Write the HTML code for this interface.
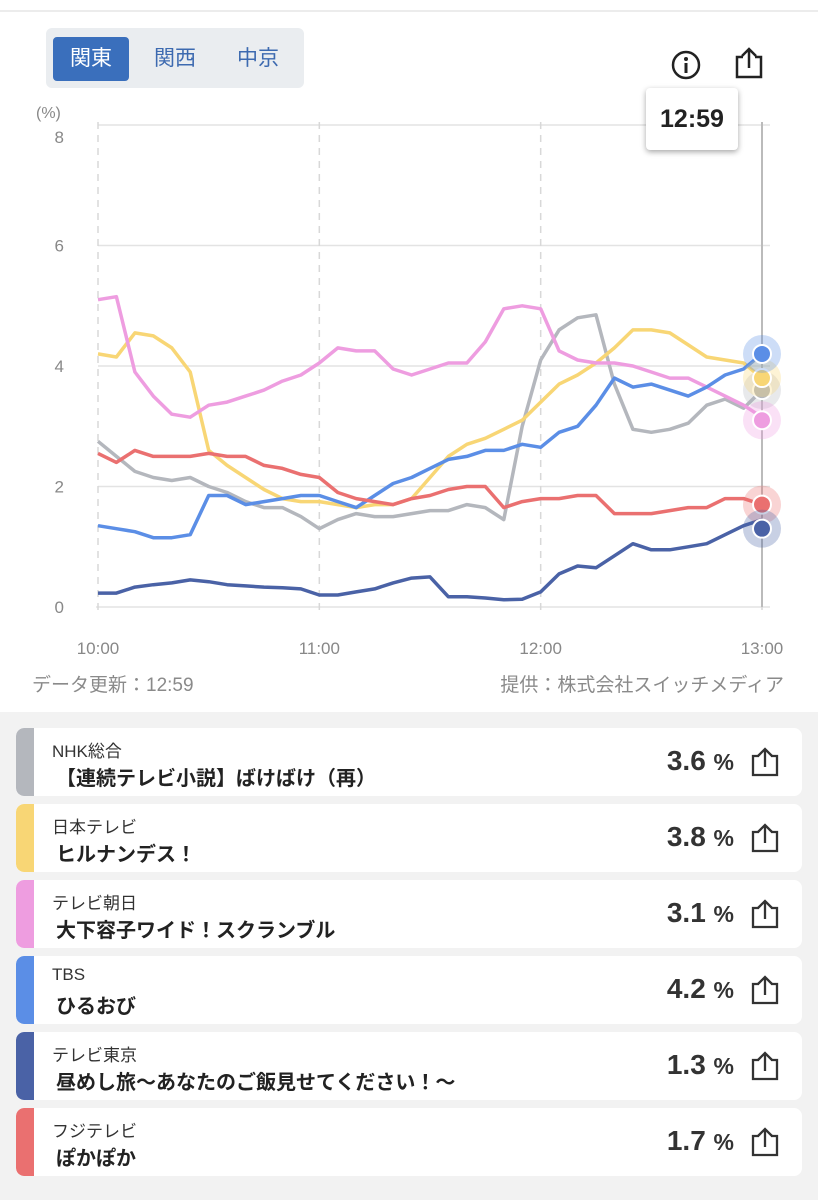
<!DOCTYPE html>
<html><head><meta charset="utf-8">
<style>
*{box-sizing:border-box;margin:0;padding:0}
body{width:818px;height:1200px;background:#fff;font-family:"Liberation Sans","Noto Sans CJK JP",sans-serif;position:relative;overflow:hidden}
.top{position:absolute;left:0;top:0;width:818px;height:12px;border-bottom:2px solid #ececec}
.tabs{position:absolute;left:46px;top:28px;width:258px;height:60px;background:#eaedf0;border-radius:6px}
.tab{position:absolute;top:9px;height:44px;width:76px;line-height:44px;text-align:center;font-size:21px;color:#3d6ab0}
.tab.on{background:#3a6fbc;color:#fff;border-radius:4px}
.tip{position:absolute;left:646px;top:88px;width:92px;height:62px;background:#fff;border-radius:4px;box-shadow:0 2px 6px rgba(0,0,0,.35);font-weight:bold;font-size:25px;line-height:62px;text-align:center;color:#222}
.foot{position:absolute;top:670px;font-size:19px;color:#8a8a8a}
.list{position:absolute;left:0;top:712px;width:818px;height:488px;background:#f2f2f2}
.card{position:absolute;left:16px;width:786px;height:68px;background:#fff;border-radius:8px;overflow:hidden}
.bar{position:absolute;left:0;top:0;width:18px;height:68px;border-radius:8px 0 0 8px}
.lbl{position:absolute;left:36px;top:9px;font-size:17px;color:#333}
.ttl{position:absolute;left:40px;top:34px;font-size:20px;font-weight:bold;color:#222}
.val{position:absolute;right:68px;top:17px;font-size:28px;font-weight:bold;color:#333}
.val span{font-size:23px}
.sh{position:absolute;right:22px;top:18px}
</style></head><body>
<div class="top"></div>
<div class="tabs">
<div class="tab on" style="left:7px">関東</div>
<div class="tab" style="left:91px">関西</div>
<div class="tab" style="left:174px">中京</div>
</div>
<svg style="position:absolute;left:670px;top:49px" width="32" height="32"><circle cx="16" cy="16" r="13" fill="none" stroke="#222" stroke-width="2.5"/><circle cx="16" cy="10" r="2" fill="#222"/><rect x="14.5" y="14" width="3" height="10" fill="#222"/></svg>
<svg style="position:absolute;left:733px;top:46px" width="32" height="34"><path d="M10 11H4V31H28V11H22" fill="none" stroke="#222" stroke-width="2.5"/><path d="M16 22V3M9 10L16 3L23 10" fill="none" stroke="#222" stroke-width="2.5"/></svg>
<svg id="chart" style="position:absolute;left:0;top:0" width="818" height="712"></svg>
<div class="tip">12:59</div>
<div class="foot" style="left:32px">データ更新：12:59</div>
<div class="foot" style="right:34px">提供：株式会社スイッチメディア</div>
<div class="list"></div>
<script>
const times=["10:00","11:00","12:00","13:00"];
const yTicks=[0,2,4,6,8];
const names=["NHK総合","日本テレビ","テレビ朝日","TBS","テレビ東京","フジテレビ"];
const titles=["【連続テレビ小説】ばけばけ（再）","ヒルナンデス！","大下容子ワイド！スクランブル","ひるおび","昼めし旅〜あなたのご飯見せてください！〜","ぽかぽか"];
const current=[3.6,3.8,3.1,4.2,1.3,1.7];
const colors=["#b4b7bd","#f8d675","#ee9de0","#5b8ee6","#4a62a6","#ea7070"];
const nhk=[2.75,2.5,2.25,2.15,2.1,2.15,2.0,1.9,1.75,1.65,1.65,1.5,1.3,1.45,1.55,1.5,1.5,1.55,1.6,1.6,1.7,1.65,1.45,3.0,4.1,4.6,4.8,4.85,3.7,2.95,2.9,2.95,3.05,3.35,3.45,3.3,3.6];
const ntv=[4.2,4.15,4.55,4.5,4.3,3.9,2.6,2.35,2.15,1.95,1.8,1.75,1.75,1.7,1.65,1.7,1.7,1.8,2.15,2.5,2.7,2.8,2.95,3.1,3.4,3.7,3.85,4.05,4.3,4.6,4.6,4.55,4.35,4.15,4.1,4.05,3.8];
const tva=[5.1,5.15,3.9,3.5,3.2,3.15,3.35,3.4,3.5,3.6,3.75,3.85,4.05,4.3,4.25,4.25,3.95,3.85,3.95,4.05,4.05,4.4,4.95,5.0,4.95,4.25,4.1,4.05,4.05,4.0,3.9,3.8,3.8,3.65,3.5,3.35,3.15];
const tbs=[1.35,1.3,1.25,1.15,1.15,1.2,1.85,1.85,1.7,1.75,1.8,1.85,1.85,1.75,1.65,1.85,2.05,2.15,2.3,2.45,2.5,2.6,2.6,2.7,2.65,2.9,3.0,3.35,3.8,3.65,3.7,3.6,3.5,3.65,3.85,3.95,4.2];
const tx=[0.23,0.23,0.33,0.37,0.4,0.45,0.42,0.37,0.35,0.33,0.32,0.3,0.2,0.2,0.25,0.3,0.4,0.48,0.5,0.17,0.17,0.15,0.12,0.13,0.25,0.55,0.68,0.65,0.85,1.05,0.95,0.95,1.0,1.05,1.2,1.35,1.45];
const cx=[2.55,2.4,2.6,2.5,2.5,2.5,2.55,2.5,2.5,2.35,2.3,2.2,2.15,1.9,1.8,1.75,1.7,1.8,1.85,1.95,2.0,2.0,1.65,1.75,1.8,1.8,1.85,1.85,1.55,1.55,1.55,1.6,1.65,1.65,1.8,1.8,1.7];
const series=[nhk,ntv,tva,tbs,tx,cx];
const drawOrder=[0,1,2,3,5,4];
const NS="http://www.w3.org/2000/svg";
const svg=document.getElementById('chart');
const X0=98,X1=762,Y0=607,Y8=125;
const xs=m=>X0+m*(X1-X0)/180;
const ys=v=>Y0-v*(Y0-Y8)/8;
function el(t,a){const e=document.createElementNS(NS,t);for(const k in a)e.setAttribute(k,a[k]);svg.appendChild(e);return e;}
yTicks.forEach(t=>{
 if(t>0){const g=el('line',{x1:98,x2:770,y1:ys(t),y2:ys(t),stroke:'#e3e3e3','stroke-width':1.5});
 
 }
 const ly=Math.max(ys(t),137)+6;
 const l=el('text',{x:64,y:ly,'text-anchor':'end','font-size':17,fill:'#888'});l.textContent=t;
 
 
});
const u=el('text',{x:36,y:118,'font-size':16,fill:'#888'});u.textContent='(%)';


el('line',{x1:96,x2:770,y1:Y0,y2:Y0,stroke:'#e3e3e3','stroke-width':1.5});
times.forEach((t,i)=>{
 const x=xs(i*60);
 const g=el('line',{x1:x,x2:x,y1:122,y2:612,stroke:'#d8d8d8','stroke-width':1.5,'stroke-dasharray':'7 6'});
 
 
 const l=el('text',{x:x,y:654,'text-anchor':'middle','font-size':17,fill:'#888'});l.textContent=t;
 
 
});
const cur=el('line',{x1:X1,x2:X1,y1:122,y2:607,stroke:'#bbb','stroke-width':2});


drawOrder.forEach(i=>{
 const d=series[i].map((v,k)=>(k?'L':'M')+xs(k*5).toFixed(1)+' '+ys(v).toFixed(1)).join(' ');
 const p=el('path',{d:d,fill:'none',stroke:colors[i],'stroke-width':3.5,'stroke-linejoin':'round'});
 
 
});
drawOrder.forEach(i=>{
 const y=ys(current[i]);
 el('circle',{cx:X1,cy:y,r:19,fill:colors[i],opacity:0.3});
 const c=el('circle',{cx:X1,cy:y,r:9,fill:colors[i],stroke:'#fff','stroke-width':2});
 
 
});
const list=document.querySelector('.list');
names.forEach((n,i)=>{
 const c=document.createElement('div');c.className='card';c.style.top=(16+i*76)+'px';
 
 
 c.innerHTML='<div class="bar" style="background:'+colors[i]+'"></div><div class="lbl">'+n+'</div><div class="ttl">'+titles[i]+'</div><div class="val">'+current[i].toFixed(1)+' <span>%</span></div><svg class="sh" width="30" height="32"><path d="M9 10H3V29H27V10H21" fill="none" stroke="#333" stroke-width="2.3"/><path d="M15 21V3M8 10L15 3L22 10" fill="none" stroke="#333" stroke-width="2.3"/></svg>';
 list.appendChild(c);
});
</script>
</body></html>
